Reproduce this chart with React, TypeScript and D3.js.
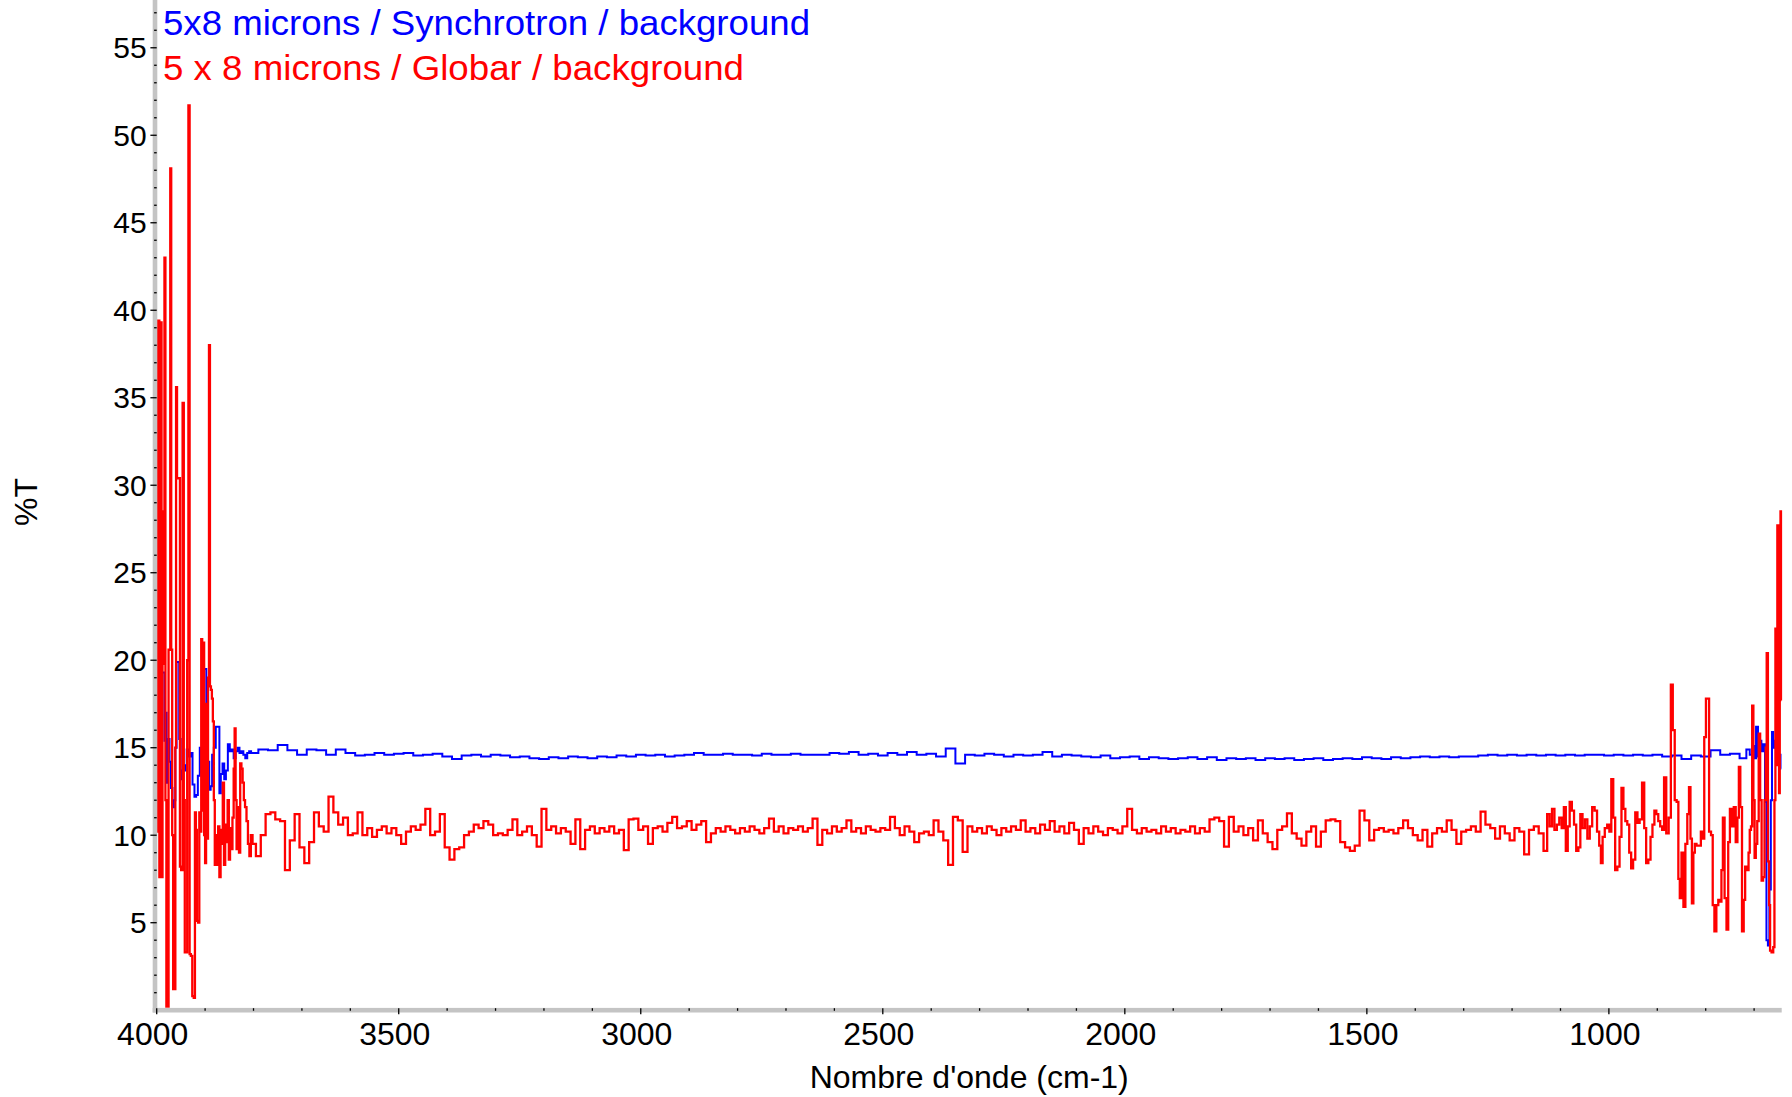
import React, { useEffect, useRef } from "react"
import * as d3 from "d3"

// Globar trace (%T), noisy start of the scan, [wavenumber, %T]
const globarHigh: [number, number][] = [
  [4000, 10.2], [3998, 39.4], [3995, 39.4], [3994, 7.6], [3991, 39.3], [3989, 7.6], [3987, 28.5],
  [3985, 19.8], [3983, 43.0], [3981, 12.0], [3979, 0.2], [3976, 0.2], [3975, 20.6], [3973, 20.6],
  [3971, 48.1], [3969, 20.6], [3967, 10.0], [3965, 1.2], [3962, 1.2], [3961, 15.0], [3959, 35.6],
  [3957, 30.4], [3953, 30.4], [3951, 8.2], [3948, 8.0], [3945, 34.7], [3943, 12.0], [3941, 3.3],
  [3938, 3.3], [3936, 20.0], [3933, 51.7], [3931, 3.2], [3928, 3.1], [3925, 0.8], [3922, 0.7],
  [3920, 11.3], [3918, 10.3], [3916, 5.1], [3913, 5.0], [3911, 11.3], [3909, 10.2], [3907, 21.2],
  [3905, 11.4], [3903, 21.0], [3901, 10.0], [3899, 8.4], [3897, 17.5], [3895, 9.8], [3893, 19.0],
  [3891, 38.0], [3889, 18.5], [3887, 18.3], [3885, 17.8], [3883, 16.5], [3881, 12.0], [3879, 8.3],
  [3876, 10.0], [3874, 8.3], [3872, 10.5], [3869, 7.6], [3867, 10.3], [3865, 9.5], [3862, 13.0],
  [3860, 8.3], [3857, 10.6], [3855, 9.6], [3852, 12.0], [3850, 8.6], [3847, 10.4], [3845, 9.2],
  [3842, 11.0], [3840, 13.8], [3838, 16.1], [3836, 12.0], [3834, 9.2], [3831, 11.6], [3829, 9.0],
  [3826, 14.1], [3824, 13.8], [3821, 13.0], [3819, 12.0], [3816, 11.6], [3813, 10.8], [3810, 9.5],
  [3807, 8.8], [3804, 10.0]
]

// Globar trace, regular part, every 10 cm-1 from 3800 down to 1140
const globarMidStart = 3800
const globarMidStep = 10
const globarMid = [
  9.5, 8.8, 10.0, 11.2, 11.3, 10.9, 10.8, 8.0, 9.7, 11.2,
  9.3, 8.4, 9.6, 11.3, 10.5, 10.2, 12.2, 11.3, 10.6, 11.0,
  10.0, 10.1, 11.3, 10.0, 10.4, 9.9, 10.3, 10.5, 10.1, 10.4,
  10.0, 9.5, 10.2, 10.5, 10.3, 10.6, 11.5, 10.0, 10.2, 11.2,
  9.3, 8.6, 9.2, 9.3, 10.0, 10.2, 10.6, 10.4, 10.8, 10.6,
  10.0, 10.1, 10.0, 10.3, 10.9, 10.0, 10.2, 10.5, 10.0, 9.35,
  11.5, 10.3, 10.5, 10.1, 10.4, 10.2, 9.5, 10.9, 9.2, 10.3,
  10.5, 10.1, 10.4, 10.2, 10.5, 10.1, 10.3, 9.15, 10.9, 10.95,
  10.3, 10.5, 9.5, 10.4, 10.5, 10.2, 10.7, 11.05, 10.4, 10.5,
  10.8, 10.3, 10.6, 10.8, 9.6, 10.1, 10.4, 10.2, 10.5, 10.3,
  10.1, 10.4, 10.2, 10.5, 10.3, 10.1, 10.4, 10.95, 10.2, 10.5,
  10.1, 10.4, 10.3, 10.5, 10.2, 10.4, 10.95, 9.45, 10.3, 10.1,
  10.5, 10.2, 10.4, 10.85, 10.2, 10.4, 10.1, 10.5, 10.3, 10.2,
  10.4, 10.3, 11.05, 10.4, 10.0, 10.5, 10.2, 9.6, 10.1, 10.2,
  10.0, 10.85, 10.2, 9.7, 8.3, 11.05, 10.85, 9.05, 10.5, 10.2,
  10.4, 10.1, 10.5, 10.3, 10.0, 10.4, 10.2, 10.5, 10.3, 10.85,
  10.2, 10.4, 10.1, 10.6, 10.3, 10.8, 10.2, 10.5, 10.1, 10.7,
  10.3, 9.5, 10.4, 10.1, 10.5, 10.2, 10.0, 10.4, 10.3, 10.1,
  10.5, 11.5, 10.3, 10.1, 10.4, 10.2, 10.3, 10.1, 10.5, 10.2,
  10.4, 10.1, 10.3, 10.2, 10.5, 10.1, 10.4, 10.2, 10.9, 11.0,
  10.8, 9.35, 11.05, 10.2, 10.5, 10.0, 10.4, 9.7, 10.85, 10.1,
  9.6, 9.2, 10.3, 10.5, 11.25, 10.1, 9.8, 9.4, 10.2, 10.5,
  9.35, 10.2, 10.85, 10.9, 10.8, 9.6, 9.3, 9.1, 9.4, 11.4,
  10.85, 9.7, 10.3, 10.4, 10.2, 10.3, 10.1, 10.4, 10.85, 10.4,
  10.0, 9.7, 10.3, 9.35, 10.1, 10.4, 10.2, 10.85, 10.3, 9.5,
  10.2, 10.3, 10.5, 10.2, 11.35, 10.6, 10.4, 9.8, 10.5, 10.1,
  9.7, 10.4, 10.2, 8.9, 10.3, 10.5, 10.1
]

// Globar trace, noisy end of the scan
const globarLow: [number, number][] = [
  [1130, 9.1], [1125, 11.2], [1120, 10.5], [1115, 11.5], [1110, 10.3], [1105, 10.6], [1100, 11.0],
  [1095, 10.4], [1091, 11.6], [1087, 9.1], [1083, 10.5], [1079, 11.9], [1074, 11.4], [1070, 10.6],
  [1065, 9.1], [1061, 9.3], [1057, 11.2], [1052, 10.4], [1047, 10.9], [1042, 9.8], [1037, 10.5],
  [1032, 11.6], [1027, 11.4], [1022, 10.2], [1018, 9.4], [1015, 8.4], [1011, 9.9], [1006, 10.4],
  [1001, 10.6], [997, 10.2], [993, 13.2], [989, 11.0], [985, 8.0], [980, 8.2], [976, 9.9],
  [972, 12.7], [968, 11.5], [964, 10.8], [960, 10.6], [956, 9.0], [952, 8.1], [948, 8.6],
  [943, 11.3], [939, 10.7], [934, 10.9], [929, 13.0], [925, 10.4], [921, 8.4], [916, 8.6],
  [912, 9.9], [908, 10.6], [904, 11.4], [900, 11.2], [896, 10.8], [892, 10.5], [888, 10.3],
  [884, 13.3], [879, 10.1], [874, 11.0], [870, 18.6], [866, 16.0], [862, 12.0], [858, 11.9],
  [855, 7.5], [852, 6.4], [848, 9.0], [844, 5.9], [840, 9.5], [836, 11.2], [833, 12.75],
  [830, 9.8], [827, 6.1], [824, 9.0], [821, 9.5], [817, 9.4], [812, 9.4], [808, 10.2],
  [805, 9.8], [801, 15.6], [798, 17.8], [795, 17.8], [791, 10.2], [787, 10.0], [784, 6.0],
  [780, 4.5], [776, 6.0], [772, 6.3], [769, 6.2], [766, 8.0], [763, 11.0], [759, 6.4],
  [755, 4.6], [752, 9.6], [748, 11.5], [744, 10.5], [740, 11.6], [736, 9.6], [733, 11.0],
  [730, 13.9], [727, 11.6], [723, 4.5], [720, 6.3], [717, 8.2], [713, 8.0], [710, 9.0],
  [708, 10.3], [705, 10.5], [703, 17.4], [700, 12.0], [698, 8.7], [695, 9.5], [692, 10.8],
  [689, 15.8], [686, 12.0], [683, 7.4], [680, 7.6], [677, 12.0], [675, 15.0], [673, 20.4],
  [670, 8.5], [668, 6.0], [666, 3.4], [662, 3.3], [659, 3.6], [657, 12.0], [655, 21.8],
  [653, 14.0], [651, 27.7], [649, 20.0], [648, 12.4], [646, 22.0], [645, 28.5], [644, 17.7]
]

// Synchrotron trace (%T), noisy start of the scan
const synchroHigh: [number, number][] = [
  [4000, 15.0], [3998, 18.0], [3996, 13.5], [3993, 17.7], [3991, 13.2], [3988, 19.3], [3985, 19.3],
  [3983, 15.4], [3981, 17.0], [3978, 13.0], [3975, 15.5], [3972, 14.2], [3969, 12.7], [3966, 11.6],
  [3963, 12.0], [3960, 15.0], [3958, 19.9], [3955, 19.9], [3952, 15.5], [3949, 13.2], [3946, 13.7],
  [3943, 14.0], [3940, 13.7], [3936, 14.9], [3932, 14.5], [3928, 14.7], [3924, 12.9], [3920, 12.2],
  [3917, 12.3], [3913, 13.4], [3909, 15.0], [3906, 13.6], [3903, 19.5], [3899, 19.5], [3896, 17.0],
  [3893, 14.2], [3890, 12.6], [3887, 12.8], [3884, 14.6], [3880, 15.0], [3876, 16.2], [3872, 16.2],
  [3869, 12.4], [3866, 13.5], [3862, 14.1], [3859, 13.2], [3855, 13.7], [3851, 15.2], [3847, 14.8],
  [3843, 14.9], [3839, 14.4], [3835, 14.8], [3831, 15.0], [3827, 14.7], [3823, 14.8], [3819, 14.6],
  [3815, 14.4], [3811, 14.7], [3807, 14.8], [3803, 14.7]
]

// Synchrotron trace, regular part, every 20 cm-1 from 3800 down to 720
const synchroMidStart = 3800
const synchroMidStep = 20
const synchroMid = [
  14.7, 14.9, 14.85, 15.15, 14.85, 14.6, 14.9, 14.85, 14.6, 14.9,
  14.7, 14.55, 14.6, 14.7, 14.6, 14.65, 14.7, 14.55, 14.6, 14.65,
  14.5, 14.35, 14.55, 14.6, 14.5, 14.6, 14.55, 14.45, 14.5, 14.4,
  14.35, 14.45, 14.4, 14.5, 14.45, 14.4, 14.5, 14.45, 14.55, 14.5,
  14.6, 14.55, 14.6, 14.5, 14.55, 14.6, 14.7, 14.6, 14.6, 14.65,
  14.6, 14.6, 14.55, 14.65, 14.6, 14.6, 14.65, 14.6, 14.6, 14.6,
  14.7, 14.65, 14.75, 14.6, 14.65, 14.55, 14.7, 14.6, 14.75, 14.6,
  14.65, 14.5, 14.95, 14.1, 14.6, 14.55, 14.65, 14.6, 14.5, 14.6,
  14.55, 14.6, 14.75, 14.5, 14.6, 14.55, 14.5, 14.45, 14.55, 14.4,
  14.45, 14.5, 14.35, 14.45, 14.4, 14.35, 14.4, 14.45, 14.35, 14.45,
  14.3, 14.4, 14.35, 14.4, 14.3, 14.4, 14.35, 14.4, 14.3, 14.35,
  14.4, 14.3, 14.35, 14.4, 14.35, 14.45, 14.4, 14.35, 14.45, 14.4,
  14.45, 14.5, 14.45, 14.5, 14.45, 14.5, 14.5, 14.55, 14.6, 14.55,
  14.6, 14.55, 14.6, 14.55, 14.6, 14.55, 14.6, 14.55, 14.6, 14.6,
  14.55, 14.6, 14.55, 14.6, 14.55, 14.6, 14.5, 14.55, 14.35, 14.55,
  14.5, 14.85, 14.6, 14.65, 14.4
]

// Synchrotron trace, noisy end of the scan
const synchroLow: [number, number][] = [
  [712, 14.9], [706, 14.6], [702, 15.1], [698, 14.4], [694, 16.2], [690, 14.5], [687, 15.4],
  [683, 14.8], [679, 15.2], [676, 11.9], [673, 4.0], [670, 3.7], [667, 6.9], [664, 12.0],
  [662, 15.9], [659, 15.0], [656, 15.4], [653, 14.8], [650, 15.1], [647, 14.6], [644, 13.8]
]

const seriesNames = ["5x8 microns / Synchrotron / background", "5 x 8 microns / Globar / background"]
const seriesColors = ["#0000ff", "#ff0000"]
const xMajorTicks = [4000, 3500, 3000, 2500, 2000, 1500, 1000]
const yMajorTicks = [5, 10, 15, 20, 25, 30, 35, 40, 45, 50, 55]

const buildSeries = (high: [number, number][], start: number, step: number, mid: number[], low: [number, number][]) =>
  [...high, ...mid.map((v, i) => [start - i * step, v] as [number, number]), ...low]

const font = "Arial, 'Liberation Sans', sans-serif"

export default function App() {
  const ref = useRef<SVGSVGElement>(null)

  useEffect(() => {
    const svg = d3.select(ref.current)
    svg.selectAll("*").remove()

    const left = 156.7
    const right = 1781.7
    const bottom = 1010.2

    const x = d3.scaleLinear().domain([4000, 643]).range([left, right])
    const y = d3.scaleLinear().domain([0, 57.73]).range([bottom, 0])

    const synchro = buildSeries(synchroHigh, synchroMidStart, synchroMidStep, synchroMid, synchroLow)
    const globar = buildSeries(globarHigh, globarMidStart, globarMidStep, globarMid, globarLow)

    const line = d3.line<[number, number]>()
      .x(d => x(d[0]))
      .y(d => y(d[1]))
      .curve(d3.curveStep)

    // traces
    const widths = [2, 2.3]
    ;[synchro, globar].forEach((data, i) => {
      svg.append("path")
        .attr("d", line(data))
        .attr("fill", "none")
        .attr("stroke", seriesColors[i])
        .attr("stroke-width", widths[i])
    })

    // axis bars
    svg.append("rect")
      .attr("x", left - 4).attr("y", 0)
      .attr("width", 4.6).attr("height", bottom + 2.3)
      .attr("fill", "#c4c4c4")
    svg.append("rect")
      .attr("x", left - 4).attr("y", bottom - 2.3)
      .attr("width", right - left + 4).attr("height", 4.6)
      .attr("fill", "#c4c4c4")

    // y ticks
    const yMinor = d3.range(1, 58).filter(v => v % 5 !== 0)
    svg.append("g").selectAll("line").data(yMinor).join("line")
      .attr("x1", left - 2.6).attr("x2", left)
      .attr("y1", d => y(d)).attr("y2", d => y(d))
      .attr("stroke", "#000").attr("stroke-width", 1.3)
    svg.append("g").selectAll("line").data(yMajorTicks).join("line")
      .attr("x1", left - 6.3).attr("x2", left)
      .attr("y1", d => y(d)).attr("y2", d => y(d))
      .attr("stroke", "#000").attr("stroke-width", 1.3)
    svg.append("g").selectAll("text").data(yMajorTicks).join("text")
      .attr("x", left - 10).attr("y", d => y(d) + 10.5)
      .attr("text-anchor", "end")
      .attr("font-family", font).attr("font-size", 30)
      .text(d => d)

    // x ticks
    const xMinor = d3.range(3900, 650, -100).filter(v => v % 500 !== 0)
    svg.append("g").selectAll("line").data(xMinor).join("line")
      .attr("x1", d => x(d)).attr("x2", d => x(d))
      .attr("y1", bottom - 2).attr("y2", bottom + 0.6)
      .attr("stroke", "#000").attr("stroke-width", 1.3)
    svg.append("g").selectAll("line").data(xMajorTicks).join("line")
      .attr("x1", d => x(d)).attr("x2", d => x(d))
      .attr("y1", bottom - 2).attr("y2", bottom + 4)
      .attr("stroke", "#000").attr("stroke-width", 1.3)
    svg.append("g").selectAll("text").data(xMajorTicks).join("text")
      .attr("x", d => x(d) - 4).attr("y", 1045)
      .attr("text-anchor", "middle")
      .attr("font-family", font).attr("font-size", 32)
      .text(d => d)

    // axis titles
    svg.append("text")
      .attr("x", (left + right) / 2).attr("y", 1088)
      .attr("text-anchor", "middle")
      .attr("font-family", font).attr("font-size", 32)
      .text("Nombre d'onde (cm-1)")
    svg.append("text")
      .attr("transform", "translate(37,502) rotate(-90)")
      .attr("text-anchor", "middle")
      .attr("font-family", font).attr("font-size", 32)
      .text("%T")

    // legend
    const legendWidths = [647, 581]
    seriesNames.forEach((name, i) => {
      svg.append("text")
        .attr("x", 163).attr("y", 35 + i * 45)
        .attr("font-family", font).attr("font-size", 35)
        .attr("fill", seriesColors[i])
        .attr("textLength", legendWidths[i])
        .attr("lengthAdjust", "spacingAndGlyphs")
        .text(name)
    })
  }, [])

  return (
    <svg
      ref={ref}
      width={1792}
      height={1097}
      style={{ position: "absolute", left: 0, top: 0, background: "#fff", display: "block" }}
    />
  )
}
